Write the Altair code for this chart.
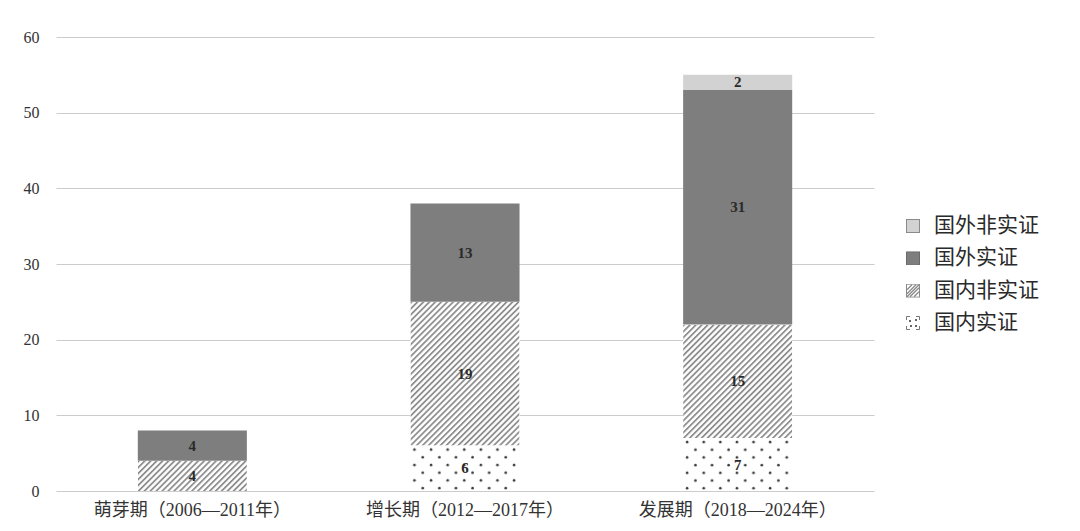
import altair as alt
import pandas as pd
from urllib.parse import quote

# ---- data ----
periods = ["萌芽期（2006—2011年）", "增长期（2012—2017年）", "发展期（2018—2024年）"]
categories = ["国内实证", "国内非实证", "国外实证", "国外非实证"]  # bottom -> top
domestic_empirical = [0, 6, 7]
domestic_nonempirical = [4, 19, 15]
foreign_empirical = [4, 13, 31]
foreign_nonempirical = [0, 0, 2]
legend_order = ["国外非实证", "国外实证", "国内非实证", "国内实证"]
y_ticks = [0, 10, 20, 30, 40, 50, 60]

series = [domestic_empirical, domestic_nonempirical, foreign_empirical, foreign_nonempirical]
rows = []
for ci, (cat, vals) in enumerate(zip(categories, series)):
    for p, v in zip(periods, vals):
        rows.append({"period": p, "category": cat, "value": v, "order": ci})
df = pd.DataFrame(rows)
legend_df = pd.DataFrame({"category": legend_order})

# ---- pattern images (style only) ----
def svg_url(svg):
    return "data:image/svg+xml;charset=utf-8," + quote(svg)

hatch_svg = ("<svg xmlns='http://www.w3.org/2000/svg'><defs>"
             "<pattern id='h' width='4.2' height='4.2' patternUnits='userSpaceOnUse' patternTransform='rotate(45)'>"
             "<rect width='4.2' height='4.2' fill='#ffffff'/><rect width='1.8' height='4.2' fill='#8f8f8f'/>"
             "</pattern></defs><rect width='100%' height='100%' fill='url(#h)'/></svg>")
dots_svg = ("<svg xmlns='http://www.w3.org/2000/svg'><defs>"
            "<pattern id='d' width='16.6' height='15.4' patternUnits='userSpaceOnUse'>"
            "<rect width='16.6' height='15.4' fill='#ffffff'/>"
            "<circle cx='4' cy='4' r='1.3' fill='#3a3a3a'/><circle cx='12.3' cy='11.7' r='1.3' fill='#3a3a3a'/>"
            "</pattern></defs><rect width='100%' height='100%' fill='url(#d)'/></svg>")
hatch_url = svg_url(hatch_svg)
dots_url = svg_url(dots_svg)

sw_light = svg_url("<svg xmlns='http://www.w3.org/2000/svg' width='14' height='14'>"
                   "<rect x='0.5' y='0.5' width='13' height='13' fill='#d2d2d2' stroke='#8a8a8a'/></svg>")
sw_dark = svg_url("<svg xmlns='http://www.w3.org/2000/svg' width='14' height='14'>"
                  "<rect x='0.5' y='0.5' width='13' height='13' fill='#7e7e7e' stroke='#6a6a6a'/></svg>")
sw_hatch = svg_url("<svg xmlns='http://www.w3.org/2000/svg' width='14' height='14'>"
                   "<rect x='0.5' y='0.5' width='13' height='13' fill='#ffffff' stroke='#8a8a8a'/>"
                   "<path d='M1,6 L6,1 M1,10 L10,1 M1,13 L13,1 M4,13 L13,4 M8,13 L13,8' stroke='#8a8a8a' stroke-width='1.3'/></svg>")
sw_dots = svg_url("<svg xmlns='http://www.w3.org/2000/svg' width='14' height='14'>"
                  "<path d='M0.5,4 V0.5 H4 M10,0.5 H13.5 V4 M13.5,10 V13.5 H10 M4,13.5 H0.5 V10' fill='none' stroke='#777' stroke-width='1'/>"
                  "<circle cx='4' cy='5' r='1' fill='#333'/><circle cx='10' cy='4' r='1' fill='#333'/>"
                  "<circle cx='5' cy='10' r='1' fill='#333'/><circle cx='10' cy='10' r='1' fill='#333'/></svg>")
swatch_expr = (f"datum.category === '国外非实证' ? '{sw_light}' : "
               f"datum.category === '国外实证' ? '{sw_dark}' : "
               f"datum.category === '国内非实证' ? '{sw_hatch}' : '{sw_dots}'")

LATIN = "Liberation Serif"
CJK = "Liberation Serif, Noto Sans CJK SC"

x_enc = alt.X("period:N", sort=periods, title=None,
              scale=alt.Scale(paddingInner=0.6, paddingOuter=0.3),
              axis=alt.Axis(labelAngle=0, labelFont=CJK, labelFontSize=18, labelColor="#333333",
                            labelLimit=0, domain=False, ticks=False, tickSize=0, labelPadding=10,
                            grid=False))
y_scale = alt.Scale(domain=[0, 60], nice=False)

base = alt.Chart(df).transform_stack(
    stack="value", groupby=["period"], as_=["y0", "y1"], sort=[alt.SortField("order")]
)

bars = base.mark_bar(strokeWidth=0).encode(
    x=x_enc,
    y=alt.Y("y1:Q", scale=y_scale, title=None,
            axis=alt.Axis(values=y_ticks, labelFont=LATIN, labelFontSize=16, labelColor="#333333",
                          domain=False, ticks=False, tickSize=0, labelPadding=17,
                          gridColor="#cccccc", gridWidth=1)),
    y2="y0:Q",
    color=alt.Color("category:N", legend=None,
                    scale=alt.Scale(domain=categories,
                                    range=["#ffffff", "#ffffff", "#7e7e7e", "#d2d2d2"])),
)

patterns = base.transform_filter(
    "(datum.category === '国内实证' || datum.category === '国内非实证') && datum.value > 0"
).transform_calculate(
    url=f"datum.category === '国内非实证' ? '{hatch_url}' : '{dots_url}'"
).mark_image(aspect=False).encode(
    x=alt.X("period:N", sort=periods),
    y=alt.Y("y1:Q", scale=y_scale),
    y2="y0:Q",
    url="url:N",
)

labels = base.transform_filter("datum.value > 0").transform_calculate(
    mid="(datum.y0 + datum.y1) / 2"
).mark_text(font=LATIN, fontWeight="bold", fontSize=15, color="#2a2a2a").encode(
    x=alt.X("period:N", sort=periods),
    y=alt.Y("mid:Q", scale=y_scale),
    text="value:Q",
)

main = alt.layer(bars, patterns, labels).properties(width=818, height=454)

leg_y = alt.Y("category:N", sort=legend_order, axis=None,
              scale=alt.Scale(type="point", range=[189, 286], padding=0))
leg_base = alt.Chart(legend_df)
leg_sw = leg_base.transform_calculate(url=swatch_expr).mark_image(
    width=14, height=14, aspect=False
).encode(x=alt.value(19), y=leg_y, url="url:N")
leg_tx = leg_base.mark_text(align="left", baseline="middle", font="Noto Sans CJK SC",
                            fontSize=21, color="#2a2a2a").encode(
    x=alt.value(40), y=leg_y, text="category:N")
legend = alt.layer(leg_sw, leg_tx).properties(width=150, height=454)

chart = alt.hconcat(main, legend, spacing=20).properties(
    padding={"left": 15, "top": 21, "right": 0, "bottom": 0},
    background="#ffffff",
).configure_view(stroke=None, strokeWidth=0)

chart.save("out.html", embed_options={"renderer": "svg", "actions": False})
